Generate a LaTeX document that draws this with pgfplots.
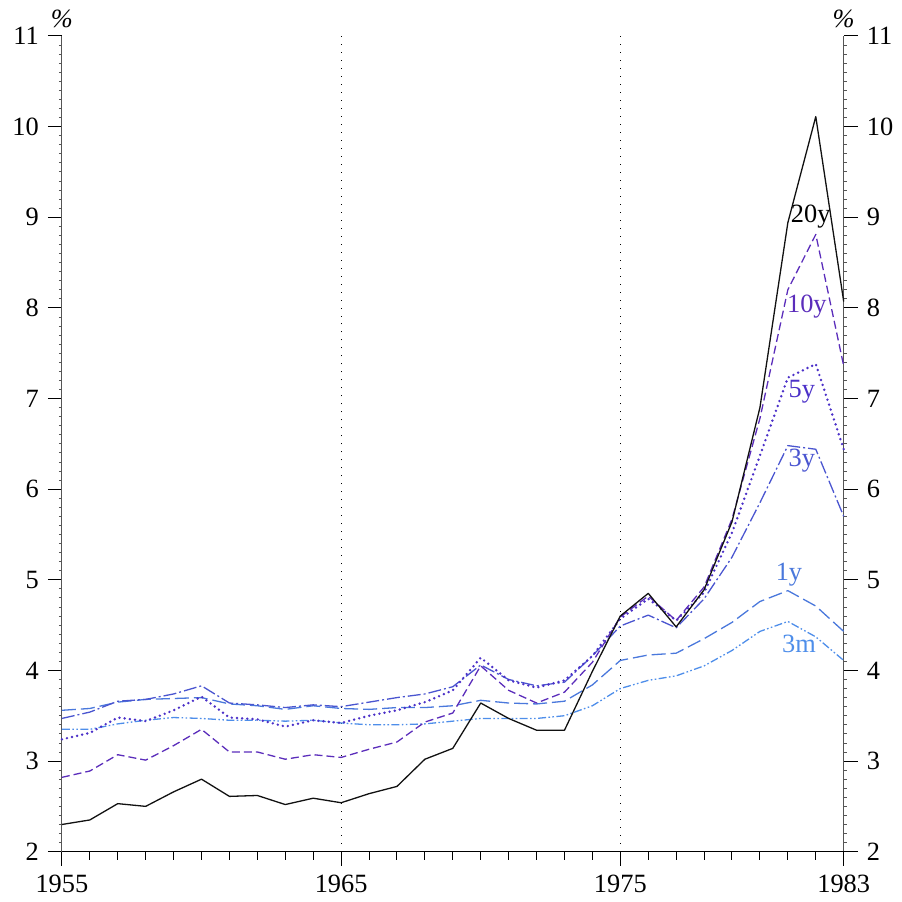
\documentclass[border=0pt]{standalone}
\usepackage{pgfplots}
\pgfplotsset{compat=1.18}
\usepackage{pgfplotstable}
\usepackage{fontspec}
\setmainfont{Liberation Serif}

\definecolor{cTwenty}{HTML}{111111}
\definecolor{cTen}{HTML}{5B2DBB}
\definecolor{cFive}{HTML}{4B30C8}
\definecolor{cThree}{HTML}{4A55D0}
\definecolor{cOne}{HTML}{4A78DC}
\definecolor{cThreeM}{HTML}{4E8EEA}
\definecolor{axisgray}{HTML}{555555}

% Annual yields by maturity, per cent
\pgfplotstableread{
year  y20   y10   y5    y3    y1    m3
1955  2.30  2.82  3.24  3.47  3.56  3.35
1956  2.35  2.89  3.31  3.54  3.58  3.35
1957  2.53  3.07  3.48  3.66  3.65  3.41
1958  2.50  3.01  3.44  3.68  3.68  3.45
1959  2.66  3.17  3.56  3.74  3.69  3.48
1960  2.80  3.35  3.71  3.83  3.70  3.47
1961  2.61  3.10  3.48  3.64  3.63  3.45
1962  2.62  3.10  3.46  3.62  3.61  3.45
1963  2.52  3.02  3.38  3.59  3.57  3.44
1964  2.59  3.07  3.45  3.62  3.61  3.45
1965  2.54  3.04  3.42  3.60  3.58  3.42
1966  2.64  3.13  3.50  3.65  3.57  3.40
1967  2.72  3.21  3.56  3.70  3.59  3.40
1968  3.02  3.43  3.65  3.74  3.59  3.41
1969  3.14  3.53  3.78  3.82  3.61  3.44
1970  3.64  4.05  4.14  4.06  3.67  3.47
1971  3.47  3.78  3.89  3.90  3.64  3.47
1972  3.34  3.64  3.81  3.83  3.63  3.47
1973  3.34  3.76  3.89  3.87  3.66  3.50
1974  3.99  4.09  4.16  4.16  3.84  3.61
1975  4.60  4.59  4.57  4.49  4.11  3.80
1976  4.85  4.82  4.79  4.61  4.17  3.89
1977  4.48  4.55  4.55  4.47  4.19  3.94
1978  4.89  4.92  4.86  4.79  4.35  4.05
1979  5.64  5.67  5.52  5.25  4.53  4.22
1980  6.90  6.78  6.37  5.85  4.76  4.43
1981  8.94  8.20  7.23  6.48  4.88  4.54
1982  10.11 8.81  7.38  6.44  4.71  4.37
1983  8.07  7.36  6.44  5.70  4.43  4.11
}\yields

\pgfplotsset{
  frame/.style={
    scale only axis, width=391.5pt, height=408.5pt,
    xmin=1955, xmax=1983, ymin=2, ymax=11,
    clip=false,
    tick align=outside,
    /pgf/number format/assume math mode=true,
    every tick label/.append style={font=\fontsize{13.2}{15}\selectfont},
  },
}

\begin{document}
\fontsize{13.2}{15}\selectfont
\begin{tikzpicture}
% fixed page frame
\path (-31pt,-24.5pt) rectangle (419.5pt,426.5pt);

% left value axis
\begin{axis}[frame,
  axis x line=none, axis y line*=left,
  axis line style={axisgray, line width=0.5pt},
  ytick={2,...,11},
  minor y tick num=9,
  major tick length=7pt, minor tick length=1.5pt,
  major tick style={black, line width=0.5pt},
  minor tick style={axisgray, line width=0.4pt},
]
\end{axis}

% right value axis
\begin{axis}[frame,
  axis x line=none, axis y line*=right,
  axis line style={axisgray, line width=0.5pt},
  ytick={2,...,11},
  minor y tick num=9,
  major tick length=7pt, minor tick length=1.5pt,
  major tick style={black, line width=0.5pt},
  minor tick style={axisgray, line width=0.4pt},
]
\end{axis}

% time axis and the series
\begin{axis}[frame,
  axis y line=none, axis x line*=bottom,
  axis line style={black, line width=0.5pt},
  xtick={1955,1965,1975,1983},
  minor xtick={1956,...,1982},
  major tick length=7pt, minor tick length=4pt,
  tick style={black, line width=0.5pt},
  /pgf/number format/1000 sep={},
  every axis plot/.append style={line width=0.65pt, line join=round},
]
\addplot[black, line width=0.4pt, dash pattern=on 0.5pt off 3.5pt]
  coordinates {(1965,2) (1965,11)};
\addplot[black, line width=0.4pt, dash pattern=on 0.5pt off 3.5pt]
  coordinates {(1975,2) (1975,11)};

\addplot[cThreeM, dash pattern=on 4pt off 1.2pt on 0.8pt off 1.2pt on 0.8pt off 1.2pt]
  table[x=year, y=m3] {\yields};
\addplot[cOne, dash pattern=on 7pt off 2.5pt]
  table[x=year, y=y1] {\yields};
\addplot[cThree, dash pattern=on 6.5pt off 1.5pt on 1pt off 1.5pt]
  table[x=year, y=y3] {\yields};
\addplot[cFive, line width=1.35pt, line cap=round, dash pattern=on 0pt off 2.6pt]
  table[x=year, y=y5] {\yields};
\addplot[cTen, dash pattern=on 4pt off 2pt]
  table[x=year, y=y10] {\yields};
\addplot[cTwenty]
  table[x=year, y=y20] {\yields};

\node[text=black]   at (axis cs:1981.82,9.01) {20y};
\node[text=cTen]    at (axis cs:1981.68,8.01) {10y};
\node[text=cFive]   at (axis cs:1981.50,7.07) {5y};
\node[text=cThree]  at (axis cs:1981.50,6.31) {3y};
\node[text=cOne]    at (axis cs:1981.04,5.06) {1y};
\node[text=cThreeM] at (axis cs:1981.40,4.29) {3m};

\node[anchor=south, inner sep=0pt, yshift=4pt] at (axis cs:1955,11) {\textit{\%}};
\node[anchor=south, inner sep=0pt, yshift=4pt] at (axis cs:1983,11) {\textit{\%}};
\end{axis}
\end{tikzpicture}
\end{document}
